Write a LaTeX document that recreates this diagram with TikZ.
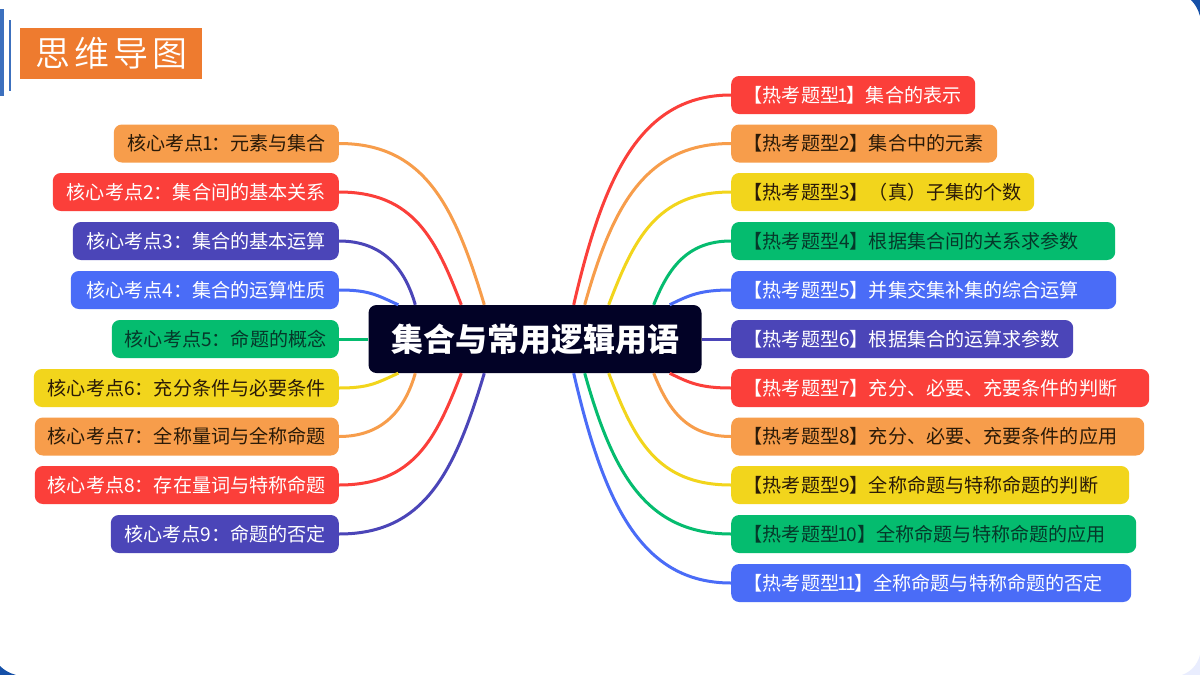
\documentclass[tikz,border=0pt]{standalone}
\usepackage{fontspec}
\setmainfont{Noto Sans CJK SC}
\newfontfamily\rootfont{Noto Sans CJK SC Black}
\newfontfamily\titlefont{Noto Sans CJK SC DemiLight}
\usetikzlibrary{calc}
\definecolor{cOrange}{HTML}{F79D4B}
\definecolor{cRed}{HTML}{FB3F3A}
\definecolor{cIndigo}{HTML}{4B45B8}
\definecolor{cBlue}{HTML}{4A6CF7}
\definecolor{cGreen}{HTML}{05BC6F}
\definecolor{cYellow}{HTML}{F2D51C}
\definecolor{cTitle}{HTML}{EE7B2F}
\definecolor{cBar}{HTML}{3C70BE}
\definecolor{cRoot}{HTML}{020226}
\definecolor{cCorner}{HTML}{1550A8}
\definecolor{cTextDark}{HTML}{2A1A08}
\definecolor{cTextGreen}{HTML}{06382A}
\newcommand{\nr}{\kern-1.5pt 1\kern-1.5pt }
\tikzset{
  x=1pt,y=-1pt,
  topic/.style={rounded corners=8pt,minimum height=38pt,inner ysep=0pt,font=\fontsize{19.1}{21}\selectfont},
  lt/.style={topic,anchor=east,inner xsep=13pt,align=right,text width={#1pt-26pt}},
  rt/.style={topic,anchor=west,inner xsep=12.5pt,align=left,text width={#1pt-25pt}},
  fo/.style={fill=cOrange,text=cTextDark},
  fr/.style={fill=cRed,text=white},
  fi/.style={fill=cIndigo,text=white},
  fb/.style={fill=cBlue,text=white},
  fg/.style={fill=cGreen,text=cTextGreen},
  fy/.style={fill=cYellow,text=cTextDark},
  link/.style={line width=3pt},
}
\newcommand{\lnk}[6]{\draw[link,#1] (#2.#3) .. controls ($(#2.#3)+(#5,0)$) and ($(#4)+(#6)$) .. (#4);}
\begin{document}
\begin{tikzpicture}
\useasboundingbox (0,0) rectangle (1200,675);
\fill[white] (0,0) rectangle (1200,675);
% corners
\fill[cCorner] (1200,0) -- (1191,0) .. controls (1195,4) and (1198,9) .. (1200,16) -- cycle;
\fill[cCorner] (0,675) -- (0,666) .. controls (4,670) and (9,673) .. (16,675) -- cycle;
\fill[cBlue!12] (1200,675) -- (1182,675) .. controls (1190,672) and (1197,666) .. (1200,655) -- cycle;
% title
\fill[cBar] (0,9) rectangle (4,96);
\fill[cBar] (9,20) rectangle (11,91);
\node[fill=cTitle,text=white,minimum width=182pt,minimum height=51pt,inner sep=0pt,anchor=north west,font=\fontsize{35}{37}\selectfont\titlefont] (title) at (20,27.5) {\raisebox{-3pt}{思\hspace{4pt}维\hspace{4pt}导\hspace{4pt}图}};
% root
\node[fill=cRoot,text=white,rounded corners=8pt,minimum width=333pt,minimum height=68pt,inner sep=0pt,font=\fontsize{32}{34}\selectfont\rootfont] (root) at (535,339) {集合与常用逻辑用语};
% root attachment points
\coordinate (L1) at ($(root.north west)+(116,0)$);
\coordinate (L2) at ($(root.north west)+(93,0)$);
\coordinate (L3) at ($(root.north west)+(47,0)$);
\coordinate (L4) at ($(root.north west)+(30,0)$);
\coordinate (L6) at ($(root.south west)+(30,0)$);
\coordinate (L7) at ($(root.south west)+(47,0)$);
\coordinate (L8) at ($(root.south west)+(93,0)$);
\coordinate (L9) at ($(root.south west)+(116,0)$);
\coordinate (R1) at ($(root.north east)+(-128,0)$);
\coordinate (R2) at ($(root.north east)+(-117,0)$);
\coordinate (R3) at ($(root.north east)+(-93,0)$);
\coordinate (R4) at ($(root.north east)+(-48,0)$);
\coordinate (R5) at ($(root.north east)+(-32,0)$);
\coordinate (R7) at ($(root.south east)+(-32,0)$);
\coordinate (R8) at ($(root.south east)+(-48,0)$);
\coordinate (R9) at ($(root.south east)+(-93,0)$);
\coordinate (R10) at ($(root.south east)+(-117,0)$);
\coordinate (R11) at ($(root.south east)+(-128,0)$);
% left topics
\node[lt=225,fo] (l1) at (339,143.5) {核心考点\nr：元素与集合};
\node[lt=286,fr] (l2) at (339,192) {核心考点2：集合间的基本关系};
\node[lt=266,fi] (l3) at (339,241) {核心考点3：集合的基本运算};
\node[lt=268,fb] (l4) at (339,290) {核心考点4：集合的运算性质};
\node[lt=227,fg] (l5) at (339,339) {核心考点5：命题的概念};
\node[lt=305,fy] (l6) at (339,388) {核心考点6：充分条件与必要条件};
\node[lt=304,fo] (l7) at (339,436.5) {核心考点7：全称量词与全称命题};
\node[lt=304,fr] (l8) at (339,485) {核心考点8：存在量词与特称命题};
\node[lt=228,fi] (l9) at (339,534) {核心考点9：命题的否定};
% right topics
\node[rt=244,fr] (r1) at (731,95) {【热考题型\nr】集合的表示};
\node[rt=266,fo] (r2) at (731,143.5) {【热考题型2】集合中的元素};
\node[rt=303,fy] (r3) at (731,192) {【热考题型3】（真）子集的个数};
\node[rt=384,fg] (r4) at (731,241) {【热考题型4】根据集合间的关系求参数};
\node[rt=385,fb] (r5) at (731,290) {【热考题型5】并集交集补集的综合运算};
\node[rt=342,fi] (r6) at (731,339) {【热考题型6】根据集合的运算求参数};
\node[rt=418,fr] (r7) at (731,388) {【热考题型7】充分、必要、充要条件的判断};
\node[rt=413,fo] (r8) at (731,436.5) {【热考题型8】充分、必要、充要条件的应用};
\node[rt=398,fy] (r9) at (731,485) {【热考题型9】全称命题与特称命题的判断};
\node[rt=405,fg] (r10) at (731,534) {【热考题型\nr 0】全称命题与特称命题的应用};
\node[rt=400,fb] (r11) at (731,583) {【热考题型\nr\nr】全称命题与特称命题的否定};
% connectors
\lnk{cOrange}{l1}{east}{L1}{85}{-30,-100}
\lnk{cRed}{l2}{east}{L2}{75}{-25,-65}
\lnk{cIndigo}{l3}{east}{L3}{45}{-10,-35}
\lnk{cBlue}{l4}{east}{L4}{30}{-22,-10}
\draw[link,cGreen] (l5.east) -- (root.west);
\lnk{cYellow}{l6}{east}{L6}{30}{-22,10}
\lnk{cOrange}{l7}{east}{L7}{45}{-10,35}
\lnk{cRed}{l8}{east}{L8}{75}{-25,65}
\lnk{cIndigo}{l9}{east}{L9}{85}{-30,100}
\lnk{cRed}{r1}{west}{R1}{-90}{30,-130}
\lnk{cOrange}{r2}{west}{R2}{-85}{28,-100}
\lnk{cYellow}{r3}{west}{R3}{-75}{25,-65}
\lnk{cGreen}{r4}{west}{R4}{-45}{14,-35}
\lnk{cBlue}{r5}{west}{R5}{-30}{20,-10}
\draw[link,cIndigo] (r6.west) -- (root.east);
\lnk{cRed}{r7}{west}{R7}{-30}{20,10}
\lnk{cOrange}{r8}{west}{R8}{-45}{14,35}
\lnk{cYellow}{r9}{west}{R9}{-75}{25,65}
\lnk{cGreen}{r10}{west}{R10}{-85}{28,100}
\lnk{cBlue}{r11}{west}{R11}{-90}{30,130}
\end{tikzpicture}
\end{document}
